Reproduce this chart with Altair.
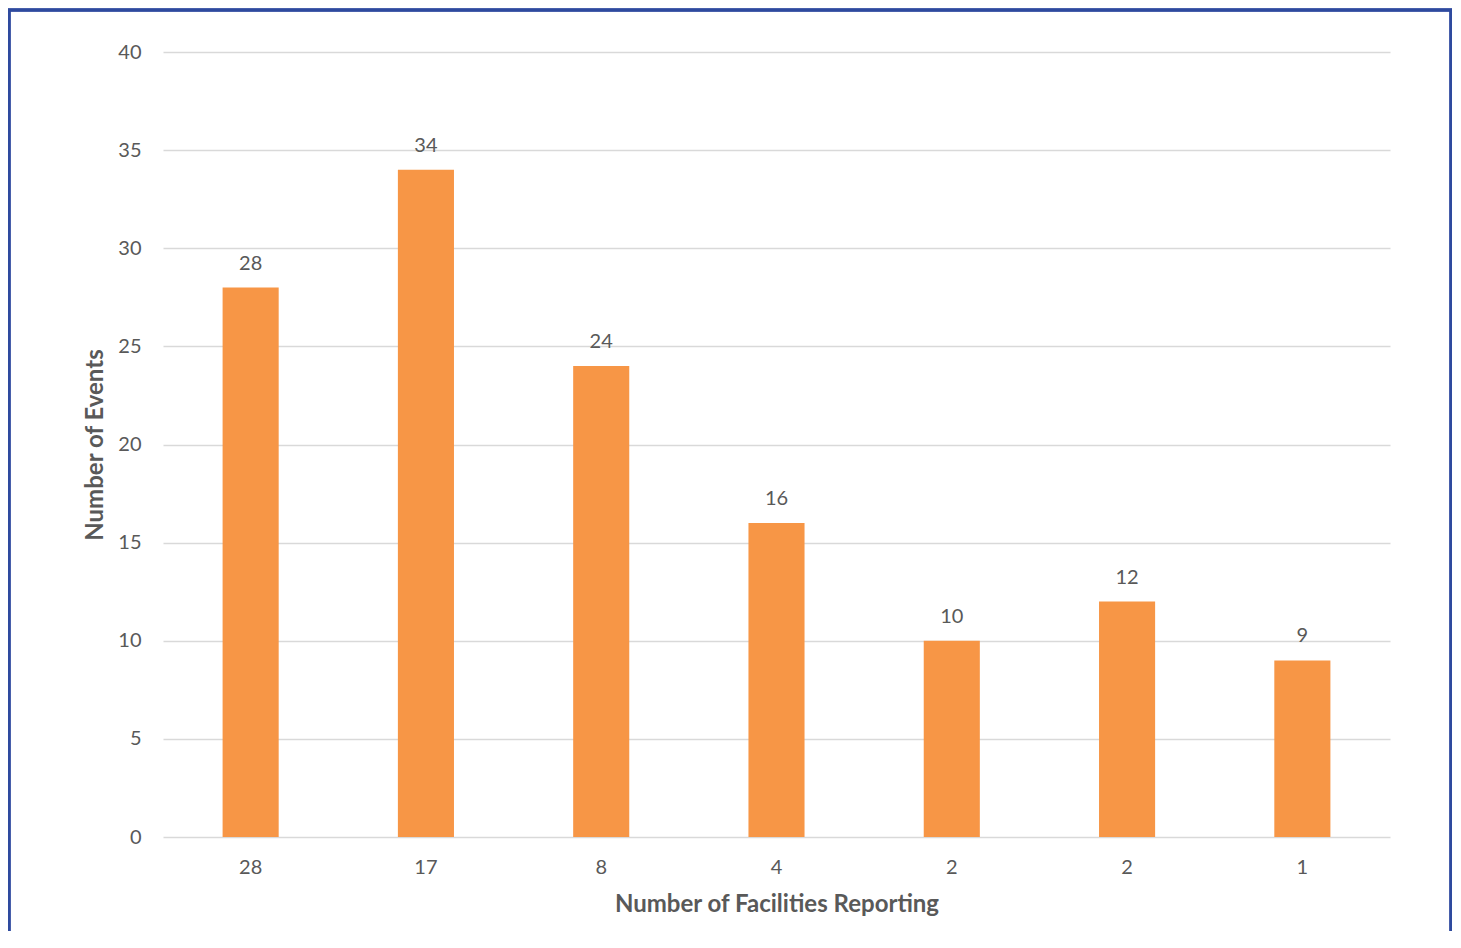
import json
import altair as alt
import pandas as pd

facilities = ["28", "17", "8", "4", "2", "2", "1"]
events = [28, 34, 24, 16, 10, 12, 9]
y_ticks = [0, 5, 10, 15, 20, 25, 30, 35, 40]

df = pd.DataFrame({"idx": list(range(len(facilities))), "fac": facilities, "events": events})

FONT = "Lato"
GRAY = "#595959"
label_expr = json.dumps(facilities) + "[datum.value]"

x_enc = alt.X("idx:O", title="Number of Facilities Reporting",
              scale=alt.Scale(paddingInner=0.68, paddingOuter=0.34),
              axis=alt.Axis(labelExpr=label_expr, labelAngle=0, domain=False, ticks=False,
                            labelPadding=20, labelFontSize=20, labelColor=GRAY, labelFont=FONT,
                            titleFontSize=24, titleFont=FONT, titleColor=GRAY, titleFontWeight="bold",
                            titlePadding=15))
y_enc = alt.Y("events:Q", title="Number of Events",
              scale=alt.Scale(domain=[0, 40], nice=False),
              axis=alt.Axis(values=y_ticks, domain=False, ticks=False, grid=True, gridColor="#D9D9D9",
                            gridWidth=1.5, labelPadding=22, labelFontSize=20, labelColor=GRAY,
                            labelFont=FONT, titleFontSize=24, titleFont=FONT, titleColor=GRAY,
                            titleFontWeight="bold", titlePadding=10))

bars = alt.Chart(df).mark_bar(color="#F79646").encode(x=x_enc, y=y_enc)
texts = alt.Chart(df).mark_text(dy=-24, fontSize=20, font=FONT, color=GRAY).encode(
    x="idx:O", y="events:Q", text="events:Q")

border = alt.Chart(df).mark_rect(fill=None, stroke="#2E4A9E", strokeWidth=2.5).encode(
    x=alt.value(-154), x2=alt.value(1288), y=alt.value(-42), y2=alt.value(920))

chart = alt.layer(bars, texts, border).properties(
    width=1227, height=785,
    padding={"left": 155, "top": 44, "right": 62, "bottom": 94},
    autosize=alt.AutoSizeParams(type="none"),
).configure_view(stroke=None)

chart.save("out.html", embed_options={"renderer": "svg", "actions": False})
